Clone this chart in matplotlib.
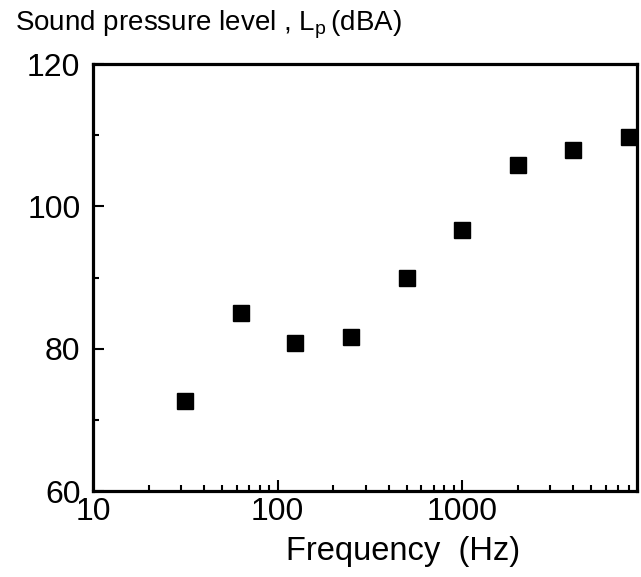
import matplotlib
matplotlib.use("Agg")
import matplotlib.pyplot as plt
from matplotlib.ticker import FixedLocator, LogLocator, NullFormatter

plt.rcParams['font.family'] = ['Liberation Sans', 'DejaVu Sans']
plt.rcParams['mathtext.fontset'] = 'custom'
plt.rcParams['mathtext.rm'] = 'Liberation Sans'

# octave band centre frequencies and measured A-weighted level
freq_hz = [31.5, 63, 125, 250, 500, 1000, 2000, 4000, 8000]
level_dba = [72.6, 85.0, 80.8, 81.7, 89.9, 96.7, 105.8, 107.9, 109.8]

y_ticks = [60, 80, 100, 120]
y_minor = [70, 90, 110]
x_ticks = [10, 100, 1000]

fig = plt.figure(figsize=(6.41, 5.77), dpi=100)
ax = fig.add_axes([0.145, 0.149, 0.848, 0.740])

ax.plot(freq_hz, level_dba, linestyle='none', marker='s', markersize=11.5,
        color='black', clip_on=False, zorder=3)

ax.set_xscale('log')
ax.set_xlim(10, 8800)
ax.set_ylim(60, 120)

ax.xaxis.set_major_locator(FixedLocator(x_ticks))
ax.set_xticklabels([str(t) for t in x_ticks])
ax.xaxis.set_minor_locator(LogLocator(base=10, subs=range(2, 10)))
ax.xaxis.set_minor_formatter(NullFormatter())
ax.yaxis.set_major_locator(FixedLocator(y_ticks))
ax.yaxis.set_minor_locator(FixedLocator(y_minor))

for side in ax.spines.values():
    side.set_linewidth(2.3)

ax.tick_params(which='both', direction='in', top=False, right=False,
               labelsize=23, width=1.5)
ax.tick_params(which='major', length=8)
ax.tick_params(which='minor', length=4)
ax.tick_params(axis='y', pad=9)
ax.tick_params(axis='x', pad=4)

fig.text(0.023, 0.958, r"Sound pressure level , L$_\mathregular{p}\,$(dBA)",
         fontsize=20, ha='left', va='center')
fig.text(0.629, 0.045, "Frequency  (Hz)", fontsize=23.5, ha='center', va='center')

fig.savefig("out.png", dpi=100, facecolor='white')
